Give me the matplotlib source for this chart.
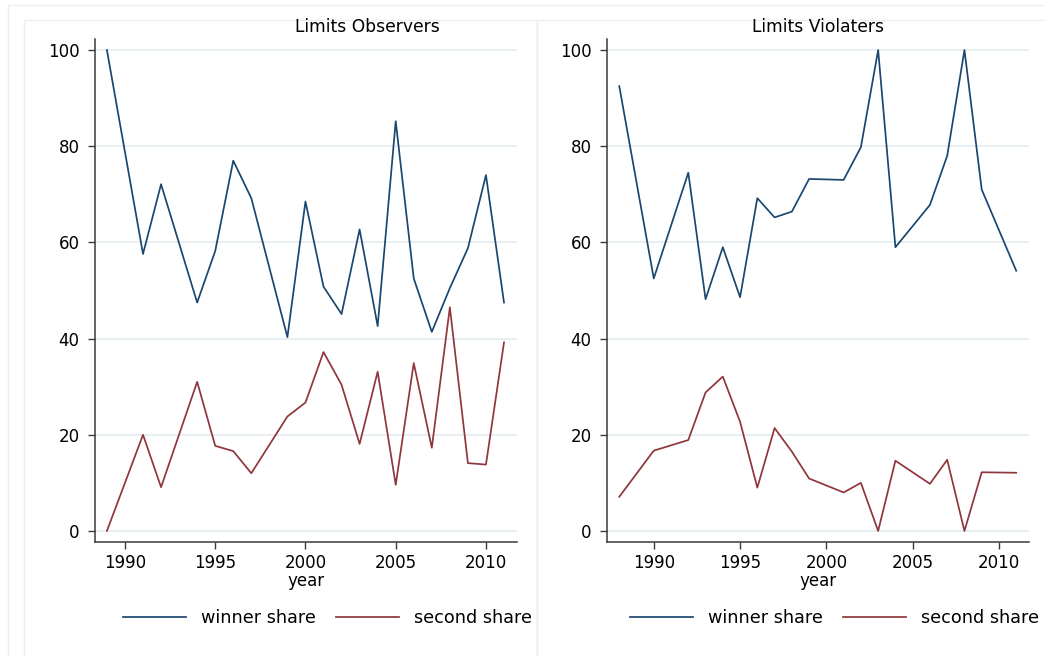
import matplotlib
matplotlib.use("Agg")
import matplotlib.pyplot as plt
from matplotlib.patches import Rectangle

plt.rcParams['font.family'] = ['DejaVu Sans']

# Limits Observers
obs_years = [1989, 1991, 1992, 1994, 1995, 1996, 1997, 1999, 2000, 2001,
             2002, 2003, 2004, 2005, 2006, 2007, 2008, 2009, 2010, 2011]
obs_winner = [100, 57.6, 72.1, 47.5, 58.2, 77.0, 69.2, 40.3, 68.5, 50.8,
              45.1, 62.7, 42.6, 85.2, 52.5, 41.4, 50.5, 58.8, 74.0, 47.5]
obs_second = [0, 20.0, 9.1, 31.0, 17.7, 16.6, 12.0, 23.8, 26.7, 37.2,
              30.4, 18.1, 33.1, 9.6, 34.9, 17.3, 46.5, 14.1, 13.8, 39.2]

# Limits Violaters
vio_years = [1988, 1990, 1992, 1993, 1994, 1995, 1996, 1997, 1998, 1999,
             2001, 2002, 2003, 2004, 2006, 2007, 2008, 2009, 2011]
vio_winner = [92.5, 52.5, 74.5, 48.2, 59.0, 48.6, 69.2, 65.2, 66.4, 73.2,
              73.0, 79.8, 100, 59.0, 67.8, 78.0, 100, 71.0, 54.1]
vio_second = [7.1, 16.7, 18.9, 28.8, 32.1, 22.7, 9.0, 21.4, 16.5, 10.9,
              8.0, 10.0, 0, 14.6, 9.8, 14.8, 0, 12.2, 12.1]

titles = ['Limits Observers', 'Limits Violaters']
yticks = [0, 20, 40, 60, 80, 100]
xticks = [1990, 1995, 2000, 2005, 2010]

NAVY = '#1a476f'
MAROON = '#90353b'
GRID = '#e3ecf1'
FAINT = '#e9eff2'

W, H = 1045, 656
fig = plt.figure(figsize=(W / 100, H / 100), dpi=100)
fig.patch.set_facecolor('white')

# faint stata-style graph region frames
def px_rect(x0, y0, x1, y1):
    fig.patches.append(Rectangle((x0 / W, 1 - y1 / H), (x1 - x0) / W, (y1 - y0) / H,
                                 transform=fig.transFigure, fill=False,
                                 edgecolor=FAINT, lw=1.0))

px_rect(8, 5, 1060, 700)
px_rect(24, 20, 537, 700)
px_rect(537, 20, 1060, 700)

panels = [
    (obs_years, obs_winner, obs_second, 95, 517, (1988.34, 2011.72), 367, 327.5),
    (vio_years, vio_winner, vio_second, 607, 1029, (1987.29, 2011.74), 818, 834.5),
]

for i, (yrs, win, sec, x0, x1, xlim, tx, lx) in enumerate(panels):
    ax = fig.add_axes([x0 / W, 1 - 542 / H, (x1 - x0) / W, (542 - 39) / H])
    ax.plot(yrs, win, color=NAVY, lw=1.25, label='winner share')
    ax.plot(yrs, sec, color=MAROON, lw=1.25, label='second share')
    ax.set_xlim(*xlim)
    ax.set_ylim(-2.3, 102.3)
    ax.set_yticks(yticks)
    ax.set_xticks(xticks)
    ax.grid(axis='y', color=GRID, lw=1.2)
    ax.set_axisbelow(True)
    for s in ['top', 'right']:
        ax.spines[s].set_visible(False)
    for s in ['left', 'bottom']:
        ax.spines[s].set_color('#3a3a3a')
        ax.spines[s].set_linewidth(1.1)
    ax.tick_params(axis='both', length=5, width=1.0, color='#3a3a3a',
                   labelsize=12, pad=4)
    ax.tick_params(axis='y', pad=6)
    ax.set_xlabel('year', fontsize=12, labelpad=0)
    fig.text(tx / W, 1 - 27 / H, titles[i], ha='center', va='center', fontsize=12.3)
    fig.legend(handles=ax.get_lines(), loc='center',
               bbox_to_anchor=(lx / W, 1 - 618 / H), ncol=2, frameon=False,
               fontsize=12.7, handlelength=3.6, handletextpad=0.85,
               columnspacing=1.1)

fig.savefig('out.png', dpi=100, facecolor='white')
